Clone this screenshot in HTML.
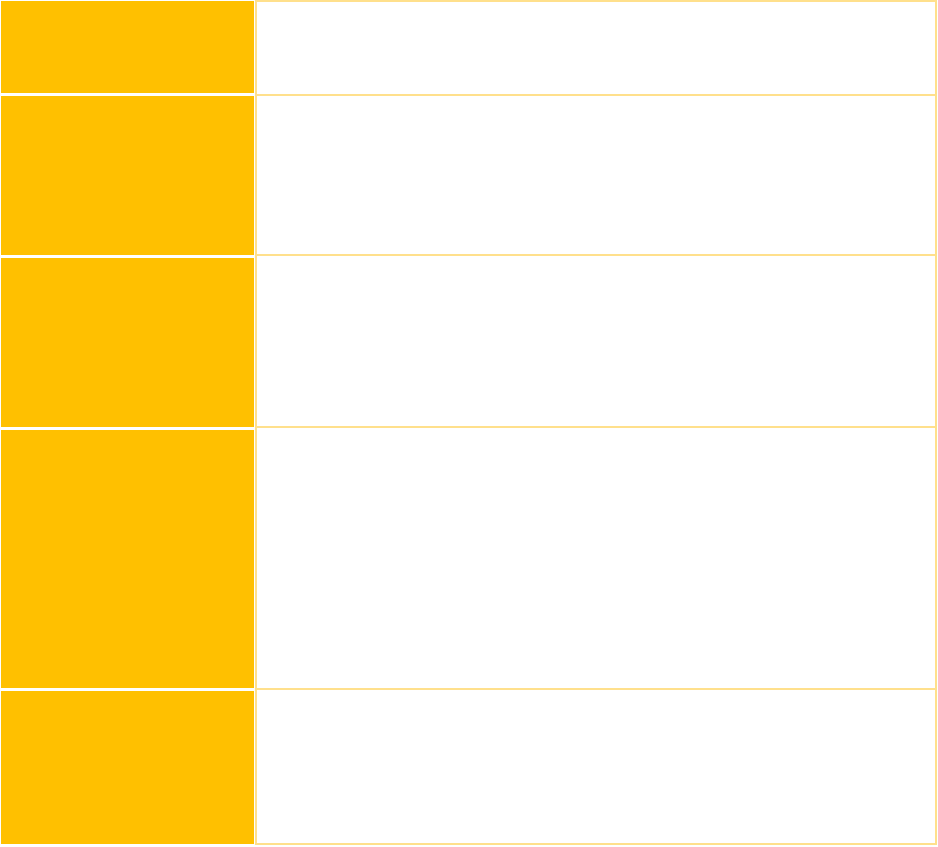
<!DOCTYPE html>
<html><head><meta charset="utf-8"><style>
body{margin:0;width:938px;height:847px;background:#fff;position:relative;overflow:hidden;font-family:"Liberation Sans",sans-serif}
.l{position:absolute;left:1px;width:253px;background:#FFC000}
.r{position:absolute;left:255px;width:678px;border:2px solid #FFE08C;box-sizing:content-box}
</style></head><body>
<div class="l" style="top:1px;height:92px"></div>
<div class="l" style="top:96px;height:159px"></div>
<div class="l" style="top:258px;height:169px"></div>
<div class="l" style="top:430px;height:258px"></div>
<div class="l" style="top:691px;height:153px"></div>
<div class="r" style="top:0px;height:92px"></div>
<div class="r" style="top:94px;height:160px;border-top:none"></div>
<div class="r" style="top:256px;height:170px;border-top:none"></div>
<div class="r" style="top:428px;height:260px;border-top:none"></div>
<div class="r" style="top:690px;height:153px;border-top:none"></div>
</body></html>
